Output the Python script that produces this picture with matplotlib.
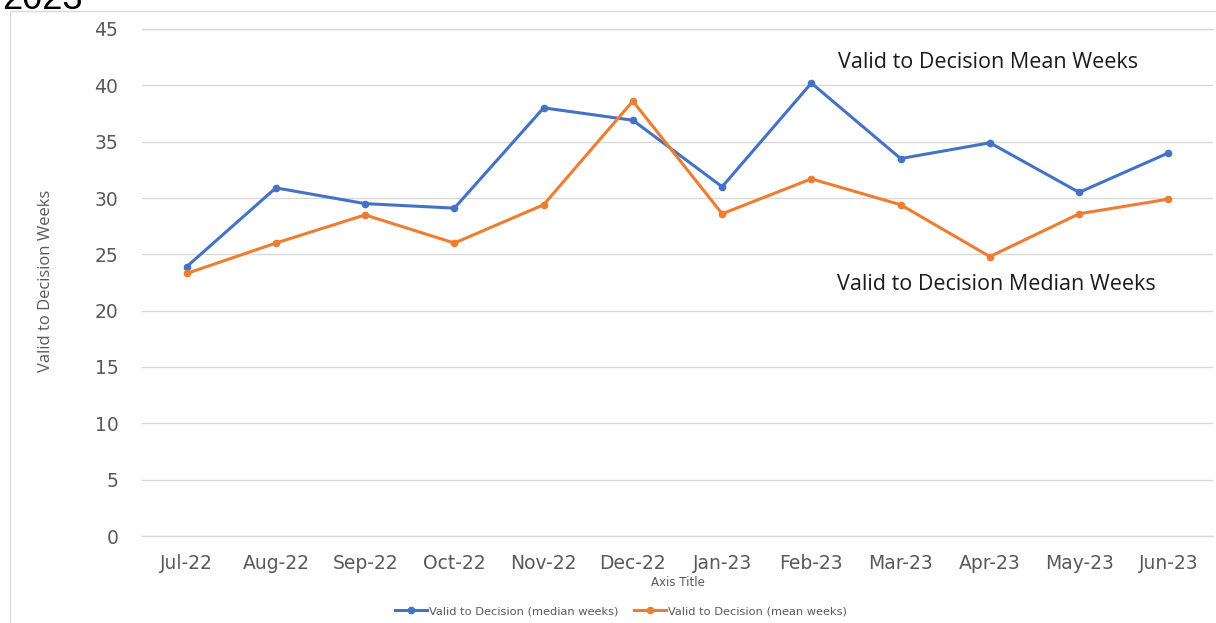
import matplotlib
matplotlib.use("Agg")
import matplotlib.pyplot as plt
from matplotlib.lines import Line2D

months = ["Jul-22", "Aug-22", "Sep-22", "Oct-22", "Nov-22", "Dec-22",
          "Jan-23", "Feb-23", "Mar-23", "Apr-23", "May-23", "Jun-23"]
median_weeks = [23.9, 30.9, 29.5, 29.1, 38.0, 36.9, 31.0, 40.2, 33.5, 34.9, 30.5, 34.0]
mean_weeks = [23.3, 26.0, 28.5, 26.0, 29.4, 38.6, 28.6, 31.7, 29.4, 24.8, 28.6, 29.9]
yticks = [0, 5, 10, 15, 20, 25, 30, 35, 40, 45]

BLUE = "#4472C4"
ORANGE = "#ED7D31"
GRID = "#D9D9D9"
TICK = "#595959"

fig = plt.figure(figsize=(12.16, 6.23), dpi=100)
ax = fig.add_axes([142/1216, 1-536/623, (1213-142)/1216, (536-29)/623])

x = list(range(len(months)))
ax.plot(x, median_weeks, color=BLUE, lw=2.2, marker="o", ms=4.5,
        label="Valid to Decision (median weeks)", zorder=3)
ax.plot(x, mean_weeks, color=ORANGE, lw=2.2, marker="o", ms=4.5,
        label="Valid to Decision (mean weeks)", zorder=3)

ax.set_xlim(-0.5, len(months) - 0.5)
ax.set_ylim(0, 45)
ax.set_yticks(yticks)
ax.set_xticks(x)
ax.set_xticklabels(months)
for s in ax.spines.values():
    s.set_visible(False)
ax.grid(axis="y", color=GRID, lw=1)
ax.axhline(0, color=GRID, lw=1, clip_on=False, zorder=1)
ax.axhline(45, color=GRID, lw=1, clip_on=False, zorder=1)
ax.set_axisbelow(True)
ax.tick_params(axis="both", length=0, labelsize=13.5, labelcolor=TICK)
ax.tick_params(axis="y", pad=17)
ax.tick_params(axis="x", pad=13)
for lab in ax.get_xticklabels() + ax.get_yticklabels():
    lab.set_fontfamily("DejaVu Sans")

ax.set_xlabel("Axis Title", fontsize=8.5, color=TICK, family="DejaVu Sans", labelpad=2)
fig.text(46/1216, 1-281/623, "Valid to Decision Weeks", rotation=90,
         ha="center", va="center", fontsize=12, color=TICK, family="Open Sans")

ax.text(988/1216, 1-62/623, "Valid to Decision Mean Weeks", transform=fig.transFigure,
        ha="center", va="center", fontsize=15.5, color="#1a1a1a", family="Open Sans")
ax.text(996/1216, 1-285/623, "Valid to Decision Median Weeks", transform=fig.transFigure,
        ha="center", va="center", fontsize=15.5, color="#1a1a1a", family="Open Sans")

leg = fig.legend(loc="center", bbox_to_anchor=(621/1216, 1-611/623), ncol=2,
                 frameon=False, handlelength=2.8, columnspacing=1.4,
                 handletextpad=0.2, prop={"family": "DejaVu Sans", "size": 8.2})
for t in leg.get_texts():
    t.set_color(TICK)

# chart frame (partially cropped)
fig.add_artist(Line2D([10/1216, 10/1216], [0, 1-11/623], transform=fig.transFigure,
                      color=GRID, lw=1))
fig.add_artist(Line2D([10/1216, 1], [1-11/623, 1-11/623], transform=fig.transFigure,
                      color=GRID, lw=1))
fig.text(2/1216, 1-9/623, "2023", fontsize=26, family="Liberation Sans",
         ha="left", va="baseline", color="black")

fig.savefig("out.png", dpi=100)
